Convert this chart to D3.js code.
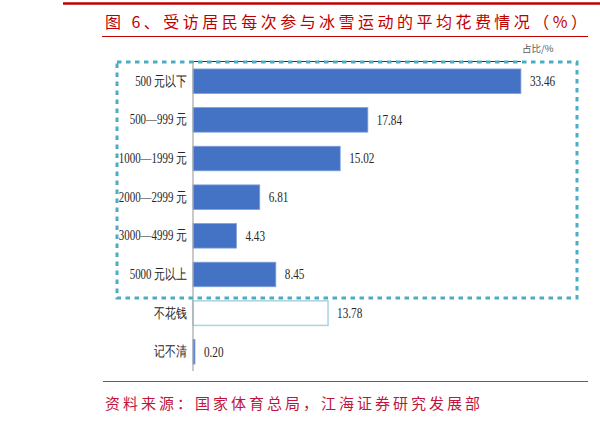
<!DOCTYPE html>
<html>
<head>
<meta charset="utf-8">
<script src="https://cdn.jsdelivr.net/npm/d3@7/dist/d3.min.js"></script>
<style>
  body { margin: 0; background: #fff; }
  svg { display: block; }
</style>
</head>
<body>
<svg id="chart" width="600" height="422"></svg>
<script>
// data
const categories = ["500 元以下", "500—999 元", "1000—1999 元", "2000—2999 元", "3000—4999 元", "5000 元以上", "不花钱", "记不清"];
const values = [33.46, 17.84, 15.02, 6.81, 4.43, 8.45, 13.78, 0.20];
const valueLabels = ["33.46", "17.84", "15.02", "6.81", "4.43", "8.45", "13.78", "0.20"];
const hollow = ["不花钱"]; // drawn as outline only

const titleText = "图 6、受访居民每次参与冰雪运动的平均花费情况（%）";
const sourceText = "资料来源：国家体育总局，江海证券研究发展部";
const unitText = "占比/%";

const svg = d3.select("#chart");
const rows = categories.map((c, i) => ({cat: c, v: values[i], label: valueLabels[i]}));

let x = d3.scaleLinear().domain([0, 40]).range([193, 585]);
let y = d3.scaleBand().domain(categories).range([62, 371]).paddingInner(0.365).paddingOuter(0.18);

const red = "#c00000";
const serif = "'Liberation Serif','DejaVu Serif',serif";
const cjk = "'Noto Sans CJK SC','Noto Sans CJK JP',sans-serif";

// header lines + title
svg.append("line").attr("x1", 63).attr("x2", 600).attr("y1", 3.5).attr("y2", 3.5)
    .attr("stroke", red).attr("stroke-width", 2.5);
svg.append("text").attr("x", 105).attr("y", 28)
    .attr("font-family", cjk).attr("font-size", 16).attr("fill", red)
    .attr("textLength", 482).attr("lengthAdjust", "spacing")
    .text(titleText);
svg.append("line").attr("x1", 102).attr("x2", 588).attr("y1", 36.5).attr("y2", 36.5)
    .attr("stroke", red).attr("stroke-width", 1);

// unit label
svg.append("text").attr("x", 522).attr("y", 52)
    .attr("font-family", cjk).attr("font-size", 9.5).attr("fill", "#595959")
    .text(unitText);

// top border of plot + axis line
svg.append("line").attr("x1", x(0)).attr("x2", x(d3.max(values))).attr("y1", 61.5).attr("y2", 61.5)
    .attr("stroke", "#333").attr("stroke-width", 1);

// bars
svg.append("g").selectAll("rect")
    .data(rows)
    .enter().append("rect")
    .attr("x", x(0))
    .attr("y", d => y(d.cat))
    .attr("width", d => x(d.v) - x(0))
    .attr("height", y.bandwidth())
    .attr("fill", d => hollow.includes(d.cat) ? "#fff" : "#4472c4")
    .attr("stroke", d => hollow.includes(d.cat) ? "#a9d4e2" : "#7f9fdb")
    .attr("stroke-width", d => hollow.includes(d.cat) ? 1.5 : 0.8);

// y axis (labels only, with line)
let yAxis = d3.axisLeft(y).tickSize(0).tickPadding(6);
let ag = svg.append("g").attr("transform", `translate(${x(0)},0)`).call(yAxis);
ag.select(".domain").remove();
svg.append("line").attr("x1", x(0)).attr("x2", x(0)).attr("y1", 61).attr("y2", 371)
    .attr("stroke", "#a6a6a6").attr("stroke-width", 1.2);
ag.selectAll("text")
    .attr("font-family", serif).attr("font-size", 14).attr("fill", "#262626")
    .each(function () {
        let w = this.getComputedTextLength();
        d3.select(this).attr("textLength", w * 0.78).attr("lengthAdjust", "spacingAndGlyphs");
    });

// value labels
svg.append("g").selectAll("text")
    .data(rows)
    .enter().append("text")
    .attr("x", d => x(d.v) + 9)
    .attr("y", d => y(d.cat) + y.bandwidth() / 2)
    .attr("dy", "0.35em")
    .attr("font-family", serif).attr("font-size", 14).attr("fill", "#262626")
    .text(d => d.label)
    .each(function () {
        let w = this.getComputedTextLength();
        d3.select(this).attr("textLength", w * 0.8).attr("lengthAdjust", "spacingAndGlyphs");
    });

// dashed highlight box
svg.append("rect").attr("x", 117).attr("y", 62).attr("width", 460).attr("height", 236)
    .attr("fill", "none").attr("stroke", "#4bacc6").attr("stroke-width", 3)
    .attr("stroke-dasharray", "4.5,4.5");

// footer
svg.append("line").attr("x1", 103).attr("x2", 588).attr("y1", 381.5).attr("y2", 381.5)
    .attr("stroke", "#e0282e").attr("stroke-width", 1.2);
svg.append("text").attr("x", 105).attr("y", 409)
    .attr("font-family", cjk).attr("font-size", 15).attr("fill", "#c0143c")
    .attr("textLength", 375).attr("lengthAdjust", "spacing")
    .text(sourceText);
</script>
</body>
</html>
